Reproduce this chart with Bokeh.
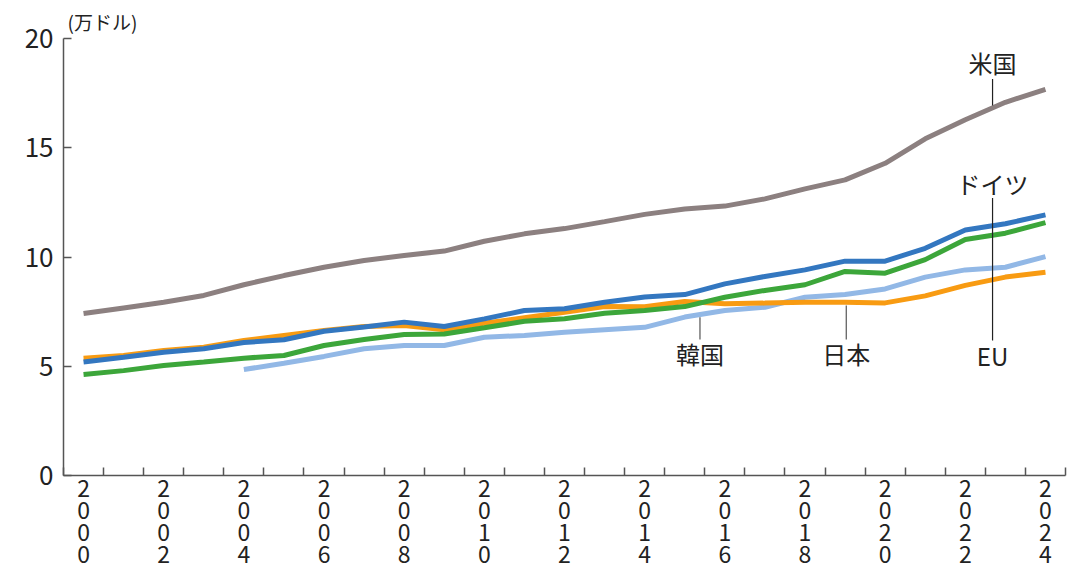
from bokeh.plotting import figure
from bokeh.models import Range1d, FixedTicker, Title
from bokeh.core.properties import value
from bokeh.embed import file_html
from bokeh.resources import INLINE

years = list(range(2000, 2025))
usa = [7.41, 7.67, 7.93, 8.24, 8.73, 9.15, 9.53, 9.84, 10.07, 10.27, 10.72, 11.06,
       11.3, 11.62, 11.95, 12.2, 12.33, 12.66, 13.12, 13.53, 14.29, 15.41, 16.28, 17.08, 17.67]
germany = [5.19, 5.41, 5.64, 5.8, 6.09, 6.21, 6.6, 6.8, 7.02, 6.82, 7.17, 7.55,
           7.63, 7.93, 8.17, 8.28, 8.77, 9.11, 9.41, 9.81, 9.81, 10.4, 11.24, 11.52, 11.93]
eu = [4.62, 4.8, 5.03, 5.19, 5.37, 5.49, 5.95, 6.22, 6.45, 6.48, 6.76, 7.06,
      7.17, 7.43, 7.55, 7.73, 8.16, 8.47, 8.73, 9.34, 9.26, 9.88, 10.8, 11.09, 11.57]
japan = [5.37, 5.49, 5.72, 5.87, 6.18, 6.41, 6.64, 6.82, 6.86, 6.67, 6.97, 7.22,
         7.47, 7.73, 7.72, 7.96, 7.86, 7.89, 7.93, 7.93, 7.9, 8.22, 8.7, 9.08, 9.3]
korea_years = list(range(2004, 2025))
korea = [4.85, 5.14, 5.45, 5.8, 5.95, 5.95, 6.33, 6.41, 6.56, 6.67, 6.78, 7.25,
         7.55, 7.7, 8.16, 8.28, 8.54, 9.08, 9.41, 9.53, 10.02]

y_ticks = [0, 5, 10, 15, 20]
x_label_years = list(range(2000, 2025, 2))
unit_label = "(万ドル)"

labels = ["米国", "ドイツ", "EU", "韓国", "日本"]
label_x = [2022.68, 2022.68, 2022.68, 2015.38, 2019.03]
label_y = [18.9, 13.36, 5.49, 5.58, 5.58]
leader_x = [2022.68, 2022.68, 2015.38, 2019.03]
leader_y0 = [18.15, 12.7, 7.24, 7.78]
leader_y1 = [16.93, 6.18, 6.22, 6.22]
leader_colors = ["#222222", "#222222", "#555555", "#555555"]

FONT = "Noto Sans CJK JP"

p = figure(width=1091, height=574, output_backend="svg", toolbar_location=None,
           x_range=Range1d(1999.5, 2024.5), y_range=Range1d(0, 20),
           min_border_left=63, min_border_right=26, min_border_top=38, min_border_bottom=99)
p.outline_line_color = None
p.grid.grid_line_color = None
p.background_fill_color = "white"
p.border_fill_color = "white"

p.add_layout(Title(text=unit_label, text_font=FONT, text_font_size="19px",
                   text_font_style="normal", text_color="#222222", align="left",
                   offset=4, standoff=8), "above")

axis_color = "#555555"
# x axis
p.xaxis.ticker = FixedTicker(ticks=x_label_years, minor_ticks=[y - 0.5 for y in range(2000, 2026)])
p.xaxis.major_label_overrides = {y: "\n".join(str(y)) for y in x_label_years}
p.xaxis.major_tick_in = 0
p.xaxis.major_tick_out = 0
p.xaxis.minor_tick_in = 8
p.xaxis.minor_tick_out = 0
p.xaxis.minor_tick_line_color = axis_color
p.xaxis.minor_tick_line_width = 1.5
p.xaxis.axis_line_color = axis_color
p.xaxis.axis_line_width = 1.5
p.xaxis.major_label_text_font = FONT
p.xaxis.major_label_text_font_size = "23px"
p.xaxis.major_label_text_color = "#222222"
p.xaxis.major_label_text_line_height = 0.65
p.xaxis.major_label_standoff = -6

# y axis
p.yaxis.ticker = FixedTicker(ticks=y_ticks)
p.yaxis.major_tick_in = 8
p.yaxis.major_tick_out = 0
p.yaxis.minor_tick_line_color = None
p.yaxis.major_tick_line_color = axis_color
p.yaxis.major_tick_line_width = 1.5
p.yaxis.axis_line_color = axis_color
p.yaxis.axis_line_width = 1.5
p.yaxis.major_label_text_font = FONT
p.yaxis.major_label_text_font_size = "26px"
p.yaxis.major_label_text_color = "#222222"
p.yaxis.major_label_standoff = 10

LW = 5
p.line(years, usa, line_color="#8c8080", line_width=LW)
p.line(korea_years, korea, line_color="#92b8e6", line_width=LW)
p.line(years, japan, line_color="#f89b12", line_width=LW)
p.line(years, eu, line_color="#3ca63a", line_width=LW)
p.line(years, germany, line_color="#3377c0", line_width=LW)

p.segment(x0=leader_x, y0=leader_y0, x1=leader_x, y1=leader_y1,
          line_color=leader_colors, line_width=1.2)

p.text(x=label_x, y=label_y, text=labels, text_font=value(FONT),
       text_font_size="24px", text_align="center", text_baseline="middle",
       text_color="#222222")

open("out.html", "w").write(file_html(p, INLINE))
